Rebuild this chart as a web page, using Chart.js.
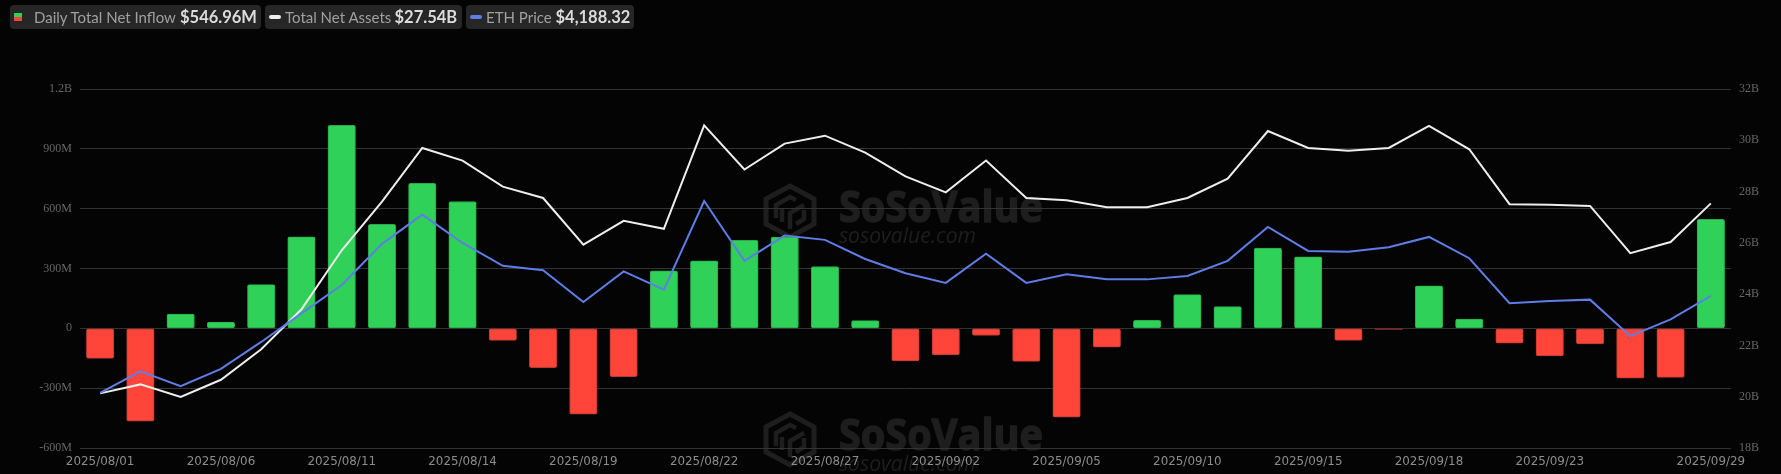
<!DOCTYPE html>
<html><head><meta charset="utf-8">
<script src="https://cdn.jsdelivr.net/npm/chart.js@4"></script>
<style>
html,body{margin:0;padding:0;background:#040404;width:1781px;height:474px;overflow:hidden}
#all{position:absolute;left:0;top:0;width:1781px;height:474px}
#wrap{position:absolute;left:0;top:0;width:1781px;height:474px}
.chip{position:absolute;top:5px;height:24px;background:#262626;border-radius:4px;font-family:Lato,sans-serif;color:#a0a0a0;font-size:15px;line-height:24px;white-space:nowrap}
.chip span{position:absolute;top:0}
.chip b{position:absolute;top:0;color:#dcdcdc;font-size:16.5px;font-weight:700}
.chip i{position:absolute;display:block}
.dash{width:12px;height:4px;top:10px;left:4px;border-radius:2px}
.two{width:8px;height:8px;top:8px;left:4px;background:linear-gradient(#30d158 50%,#ff453a 50%)}
</style></head><body>
<div id="all">
<div id="wrap"><canvas id="c" width="1781" height="474"></canvas></div>
<div class="chip" style="left:10px;width:251px"><i class="two"></i><span style="left:24px">Daily Total Net Inflow</span><b style="left:170px">$546.96M</b></div>
<div class="chip" style="left:265px;width:197px"><i class="dash" style="background:#eeeeee"></i><span style="left:20px">Total Net Assets</span><b style="left:129.5px">$27.54B</b></div>
<div class="chip" style="left:466px;width:168px"><i class="dash" style="background:#5f7de6"></i><span style="left:20px">ETH Price</span><b style="left:89.5px">$4,188.32</b></div>
</div>
<script>
const categories=["2025/08/01","2025/08/04","2025/08/05","2025/08/06","2025/08/07","2025/08/08","2025/08/11","2025/08/12","2025/08/13","2025/08/14","2025/08/15","2025/08/18","2025/08/19","2025/08/20","2025/08/21","2025/08/22","2025/08/25","2025/08/26","2025/08/27","2025/08/28","2025/08/29","2025/09/02","2025/09/03","2025/09/04","2025/09/05","2025/09/08","2025/09/09","2025/09/10","2025/09/11","2025/09/12","2025/09/15","2025/09/16","2025/09/17","2025/09/18","2025/09/19","2025/09/22","2025/09/23","2025/09/24","2025/09/25","2025/09/26","2025/09/29"];
const shownDates=["2025/08/01","2025/08/06","2025/08/11","2025/08/14","2025/08/19","2025/08/22","2025/08/27","2025/09/02","2025/09/05","2025/09/10","2025/09/15","2025/09/18","2025/09/23","2025/09/29"];
const inflowM=[-151,-465,71,31,219,459,1018,521,727,636,-60,-197,-430,-242,288,339,441,458,310,39,-163,-133,-36,-166,-445,-94,40,169,109,403,358,-61,-5,213,47,-74,-138,-78,-250,-246,546.96];
const assetsB=[20.13,20.48,19.99,20.66,21.85,23.41,25.71,27.61,29.70,29.21,28.19,27.75,25.93,26.86,26.55,30.58,28.86,29.87,30.18,29.52,28.59,27.97,29.21,27.75,27.66,27.39,27.39,27.75,28.50,30.36,29.70,29.59,29.70,30.56,29.65,27.51,27.49,27.44,25.60,26.03,27.54];
const ethPrice=[3532,3678,3578,3695,3877,4070,4262,4540,4738,4546,4392,4362,4147,4354,4231,4830,4425,4596,4567,4438,4341,4276,4474,4276,4335,4301,4300,4323,4425,4654,4492,4487,4517,4587,4443,4139,4154,4163,3916,4030,4188.32];

const GREEN='#30d158',RED='#ff453a',WHITE='#eeeeee',BLUE='#5f7de6';

function drawMark(ctx,x,y){
  const s='#1e1e1e';
  ctx.save();
  ctx.translate(x,y);
  ctx.strokeStyle=s;ctx.lineWidth=5;ctx.lineJoin='miter';
  ctx.beginPath();
  ctx.moveTo(28,3);ctx.lineTo(52,16);ctx.lineTo(52,41);ctx.lineTo(28,54);ctx.lineTo(4,41);ctx.lineTo(4,16);ctx.closePath();
  ctx.stroke();
  ctx.lineWidth=4.5;
  ctx.beginPath();
  ctx.moveTo(14,35);ctx.lineTo(14,22);ctx.lineTo(28,14);ctx.lineTo(34,17);
  ctx.moveTo(42,22);ctx.lineTo(28,30);ctx.lineTo(28,46);
  ctx.moveTo(42,27);ctx.lineTo(42,36);ctx.lineTo(34,41);
  ctx.moveTo(20,26);ctx.lineTo(20,39);
  ctx.stroke();
  ctx.fillStyle=s;
  ctx.textAlign='left';ctx.textBaseline='alphabetic';
  ctx.font='bold 43px "Open Sans",sans-serif';
  ctx.strokeStyle=s;ctx.lineWidth=1.5;
  ctx.fillText('SoSoValue',77,39,204);
  ctx.strokeText('SoSoValue',77,39,204);
  ctx.font='italic 22px "Open Sans",sans-serif';
  ctx.fillText('sosovalue.com',77,60,137);
  ctx.restore();
}
const watermark={id:'watermark',beforeDraw(c){
  const ctx=c.ctx;
  ctx.save();ctx.fillStyle='#040404';ctx.fillRect(0,0,c.width,c.height);ctx.restore();
  drawMark(ctx,762,183);drawMark(ctx,762,411);
}};

new Chart(document.getElementById('c'),{
  type:'bar',
  data:{labels:categories,datasets:[
    {type:'line',label:'ETH Price',data:ethPrice,yAxisID:'yPrice',borderColor:BLUE,borderWidth:2,pointRadius:0,tension:0,order:1},
    {type:'line',label:'Total Net Assets',data:assetsB,yAxisID:'yAssets',borderColor:WHITE,borderWidth:2,pointRadius:0,tension:0,order:2},
    {label:'Daily Total Net Inflow',data:inflowM,yAxisID:'yFlow',
     backgroundColor:ctx=>ctx.raw>=0?GREEN:RED,
     borderColor:ctx=>ctx.raw>=0?'#28a94a':'#b93830',borderWidth:1,
     borderRadius:2,borderSkipped:false,barThickness:27.5,order:3}
  ]},
  options:{
    responsive:false,animation:false,
    layout:{padding:{top:89,left:0,right:0,bottom:0}},
    plugins:{legend:{display:false},tooltip:{enabled:false}},
    scales:{
      x:{grid:{display:false,tickLength:0},border:{display:false},
        afterFit(s){s.height=26},
        ticks:{autoSkip:false,maxRotation:0,padding:7,color:'#8c8c8c',font:{family:'"DejaVu Sans"',size:11.9},
          callback(v){const l=this.getLabelForValue(v);return shownDates.includes(l)?l:''}}},
      yFlow:{position:'left',min:-600,max:1200,border:{display:false},
        grid:{color:'#333333',lineWidth:1,tickLength:0},
        afterFit(s){s.width=80},
        ticks:{stepSize:300,padding:8,color:'#666666',font:{family:'"Liberation Serif"',size:12},
          callback(v){return v===0?'0':Math.abs(v)>=1000?(v/1000)+'B':v+'M'}}},
      yAssets:{position:'right',min:18,max:32,border:{display:false},
        grid:{display:false,tickLength:0},
        afterFit(s){s.width=50},
        ticks:{stepSize:2,padding:8,color:'#666666',font:{family:'"Liberation Serif"',size:12},
          callback(v){return v+'B'}}},
      yPrice:{display:false,min:3160,max:5587}
    }
  },
  plugins:[watermark]
});
</script>
</body></html>
